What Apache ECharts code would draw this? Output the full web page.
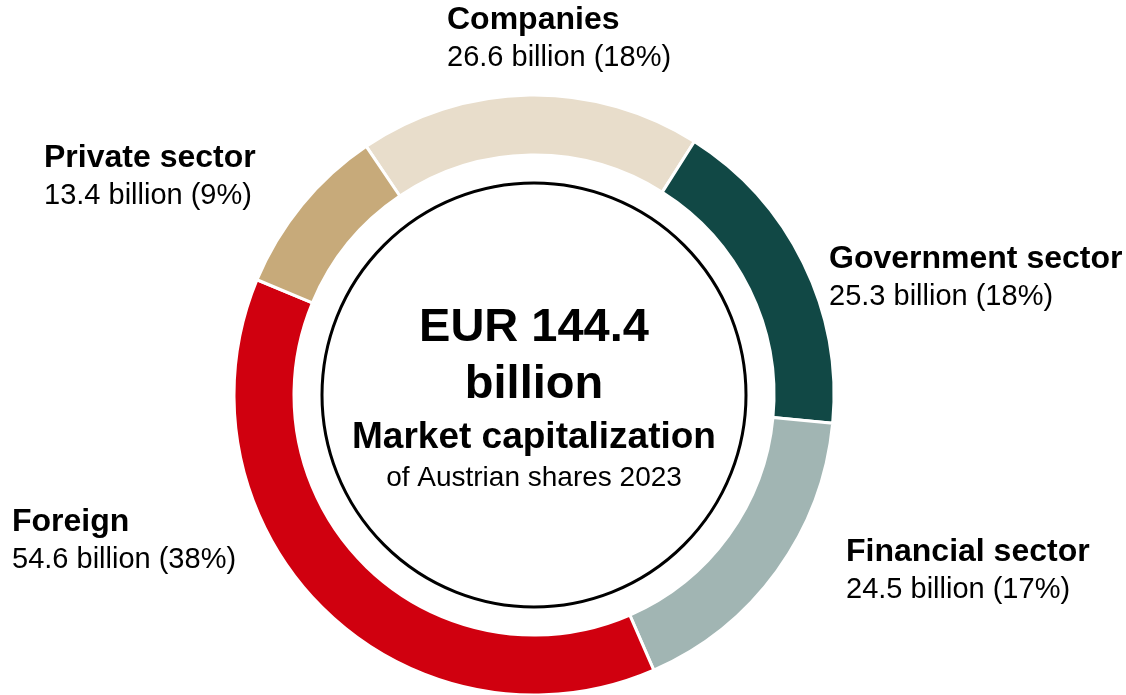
<!DOCTYPE html>
<html>
<head>
<meta charset="utf-8">
<script src="https://cdn.jsdelivr.net/npm/echarts@6/dist/echarts.min.js"></script>
<style>
html, body { margin: 0; padding: 0; background: #fff; }
#chart { width: 1126px; height: 695px; }
</style>
</head>
<body>
<div id="chart"></div>
<script>
const sectors = ['Companies', 'Government sector', 'Financial sector', 'Foreign', 'Private sector'];
const values = [26.6, 25.3, 24.5, 54.6, 13.4];
const colors = ['#E8DDCB', '#114845', '#A1B5B3', '#D0000F', '#C7AA7A'];
const totalText = ['EUR 144.4', 'billion', 'Market capitalization', 'of Austrian shares 2023'];

// where each label block sits (x = left edge, y = middle of block)
const labelPos = [
	{ x: 447, y: 39 },
	{ x: 829, y: 278 },
	{ x: 846, y: 571 },
	{ x: 12, y: 541 },
	{ x: 44, y: 177 }
];

const total = values.reduce((a, b) => a + b, 0);
const font = 'Arial, "Liberation Sans", sans-serif';

const chart = echarts.init(document.getElementById('chart'));

const option = {
	animation: false,
	series: [
	{
		type: 'pie',
		center: [534, 395],
		radius: [240, 300],
		startAngle: 124,
		clockwise: true,
		silent: true,
		itemStyle: {
			borderColor: '#fff',
			borderWidth: 3
		},
		label: {
			show: true,
			position: 'outside',
			overflow: 'none',
			align: 'left',
			formatter: function (p) {
				const pct = Math.round(p.value / total * 100);
				return '{n|' + p.name + '}\n{v|' + p.value.toFixed(1) + ' billion (' + pct + '%)}';
			},
			rich: {
				n: { fontFamily: font, fontWeight: 'bold', fontSize: 32, lineHeight: 37, color: '#000' },
				v: { fontFamily: font, fontSize: 29, lineHeight: 37, color: '#000' }
			}
		},
		labelLine: { show: false },
		labelLayout: function (params) {
			const pos = labelPos[params.dataIndex];
			return { x: pos.x, y: pos.y, align: 'left', verticalAlign: 'middle', width: 400 };
		},
		data: sectors.map((name, i) => ({
			name: name,
			value: values[i],
			itemStyle: { color: colors[i] }
		}))
	}
	],
	graphic: [
	{
		type: 'circle',
		shape: { cx: 534, cy: 395, r: 212 },
		style: { fill: '#fff', stroke: '#000', lineWidth: 3 }
	},
	{
		type: 'text', x: 534, y: 328,
		style: { text: totalText[0], font: 'bold 47px ' + font, fill: '#000', align: 'center', verticalAlign: 'middle' }
	},
	{
		type: 'text', x: 534, y: 385,
		style: { text: totalText[1], font: 'bold 47px ' + font, fill: '#000', align: 'center', verticalAlign: 'middle' }
	},
	{
		type: 'text', x: 534, y: 438,
		style: { text: totalText[2], font: 'bold 37px ' + font, fill: '#000', align: 'center', verticalAlign: 'middle' }
	},
	{
		type: 'text', x: 534, y: 478,
		style: { text: totalText[3], font: '28px ' + font, fill: '#000', align: 'center', verticalAlign: 'middle' }
	}
	]
};

chart.setOption(option);
</script>
</body>
</html>
